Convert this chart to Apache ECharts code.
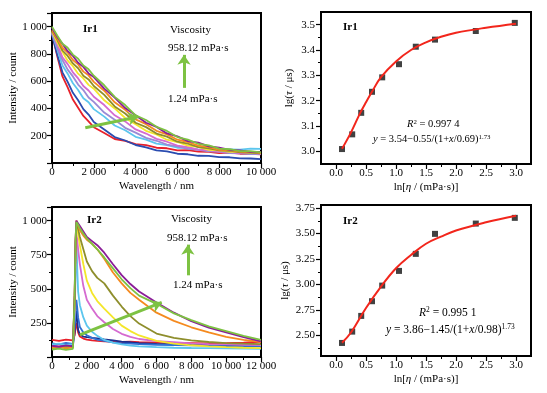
<!DOCTYPE html>
<html>
<head>
<meta charset="utf-8">
<script src="https://cdn.jsdelivr.net/npm/echarts@6/dist/echarts.min.js"></script>
<style>html,body{margin:0;padding:0;background:#fff}</style>
</head>
<body>
<div id="main" style="width:547px;height:393px;"></div>
<script>
// Ir1 decay curves (x in nm)
const wl1 = [0, 250, 500, 750, 1000, 1250, 1500, 1750, 2000, 2500, 3000, 3500, 4000, 4500, 5000, 5500, 6000, 6500, 7000, 7500, 8000, 8500, 9000, 9500, 10000]
const ir1Red = [950, 785, 635, 555, 465, 405, 345, 305, 262, 220, 176, 163, 138, 131, 112, 108, 93, 95, 83, 82, 73, 76, 68, 68, 64]
const ir1Blue = [940, 795, 665, 595, 515, 460, 395, 355, 300, 245, 190, 165, 132, 115, 92, 85, 68, 64, 53, 52, 43, 42, 34, 33, 29]
const ir1Cyan = [950, 835, 715, 655, 585, 535, 475, 445, 395, 340, 275, 240, 192, 172, 142, 131, 112, 111, 98, 100, 93, 100, 98, 106, 104]
const ir1Lavender = [955, 845, 755, 685, 635, 575, 535, 480, 448, 370, 318, 258, 223, 184, 163, 135, 122, 104, 97, 85, 82, 73, 71, 66, 66]
const ir1Magenta = [960, 875, 775, 725, 665, 620, 565, 532, 486, 425, 350, 305, 246, 216, 177, 156, 127, 117, 98, 95, 83, 82, 73, 74, 69]
const ir1Yellow = [965, 885, 815, 750, 710, 655, 620, 573, 545, 460, 400, 330, 285, 236, 209, 171, 154, 127, 118, 97, 93, 82, 82, 74, 76]
const ir1Olive = [970, 905, 825, 785, 730, 695, 640, 613, 565, 500, 415, 363, 295, 263, 216, 193, 156, 142, 117, 108, 92, 90, 78, 77, 70]
const ir1Orange = [975, 915, 845, 810, 755, 723, 670, 643, 595, 530, 445, 390, 320, 285, 236, 210, 171, 154, 127, 116, 97, 95, 83, 82, 74]
const ir1Purple = [990, 925, 875, 820, 785, 735, 705, 657, 630, 545, 480, 403, 350, 295, 265, 217, 195, 160, 149, 122, 113, 97, 93, 82, 82]
const ir1Green = [1000, 935, 875, 845, 795, 765, 715, 687, 640, 570, 485, 425, 350, 315, 265, 235, 190, 172, 141, 130, 106, 101, 87, 87, 78]

// Ir2 decay curves
const wl2 = [0, 400, 800, 1200, 1300, 1350, 1400, 1450, 1500, 1600, 1800, 2000, 2300, 2600, 3000, 3500, 4000, 4500, 5000, 6000, 7000, 8000, 9000, 10000, 11000, 12000]
const ir2Red = [125, 118, 128, 122, 160, 210, 250, 220, 180, 150, 135, 128, 122, 118, 115, 113, 110, 112, 108, 106, 104, 102, 100, 102, 105, 112]
const ir2Navy = [82, 88, 78, 84, 180, 280, 340, 260, 200, 165, 150, 145, 140, 137, 130, 122, 112, 108, 102, 96, 92, 90, 88, 85, 82, 80]
const ir2Blue = [100, 92, 104, 96, 220, 340, 420, 360, 290, 220, 180, 160, 140, 128, 118, 108, 100, 98, 95, 90, 88, 85, 83, 80, 80, 78]
const ir2Cyan = [92, 98, 88, 94, 300, 600, 880, 650, 480, 380, 290, 230, 185, 155, 125, 105, 92, 84, 78, 72, 68, 66, 65, 64, 62, 60]
const ir2Magenta = [76, 82, 72, 78, 350, 700, 900, 860, 790, 680, 520, 420, 355, 300, 255, 205, 170, 148, 132, 116, 108, 100, 95, 92, 90, 88]
const ir2Yellow = [70, 76, 68, 72, 400, 800, 960, 950, 900, 820, 680, 560, 470, 410, 355, 290, 230, 190, 158, 118, 98, 86, 78, 72, 68, 65]
const ir2Olive = [72, 68, 76, 70, 420, 820, 980, 970, 940, 880, 790, 700, 630, 580, 540, 450, 370, 300, 245, 172, 140, 122, 110, 102, 98, 95]
const ir2Orange = [66, 72, 64, 70, 450, 850, 1000, 990, 965, 930, 890, 860, 830, 790, 720, 620, 540, 470, 420, 325, 265, 218, 180, 148, 125, 110]
const ir2Purple = [82, 74, 86, 78, 450, 850, 1000, 995, 980, 960, 920, 880, 850, 820, 765, 680, 600, 535, 480, 400, 325, 262, 215, 180, 145, 115]
const ir2Green = [55, 62, 52, 60, 450, 850, 990, 985, 970, 945, 905, 870, 830, 790, 730, 650, 570, 505, 450, 390, 320, 270, 225, 190, 155, 125]

// lg(viscosity) vs lg(tau)
const lgEta = [0.1, 0.27, 0.42, 0.6, 0.77, 1.05, 1.33, 1.65, 2.33, 2.98]
const ir1LgTau = [3.009, 3.067, 3.152, 3.235, 3.292, 3.344, 3.413, 3.441, 3.475, 3.507]
const ir2LgTau = [2.428, 2.539, 2.693, 2.837, 2.990, 3.134, 3.301, 3.497, 3.598, 3.654]
// fitted curves
const fitX1 = [0.1, 0.25, 0.4, 0.5, 0.6, 0.75, 1.0, 1.25, 1.5, 1.75, 2.0, 2.5, 3.0]
const fitY1 = [3.01, 3.075, 3.15, 3.194, 3.235, 3.293, 3.355, 3.40, 3.43, 3.452, 3.468, 3.488, 3.504]
const fitX2 = [0.1, 0.25, 0.5, 0.75, 1.0, 1.25, 1.5, 1.75, 2.0, 2.5, 3.0]
const fitY2 = [2.43, 2.53, 2.77, 2.98, 3.16, 3.29, 3.40, 3.47, 3.53, 3.61, 3.675]

// tick values
const lnTicks = [0, 0.5, 1.0, 1.5, 2.0, 2.5, 3.0]
const lnMinor = [0.25, 0.75, 1.25, 1.75, 2.25, 2.75]
const ir1YTicks = [3.0, 3.1, 3.2, 3.3, 3.4, 3.5]
const ir1YMinor = [3.05, 3.15, 3.25, 3.35, 3.45]
const ir2YTicks = [2.5, 2.75, 3.0, 3.25, 3.5, 3.75]
const ir2YMinor = [2.375, 2.625, 2.875, 3.125, 3.375, 3.625]

const FONT = 'Liberation Serif'
const GREEN = '#7dc242'

const zip = (xs, ys) => xs.map((x, i) => [x, ys[i]])
const thousands = v => v >= 1000 ? Math.floor(v / 1000) + ' ' + String(v % 1000).padStart(3, '0') : String(v)

function decay (name, xs, ys, color, idx, extra) {
  return Object.assign({
    name: name,
    type: 'line',
    xAxisIndex: idx,
    yAxisIndex: idx,
    showSymbol: false,
    data: zip(xs, ys),
    lineStyle: { color: color, width: 1.8 },
    itemStyle: { color: color }
  }, extra || {})
}

function arrows (lines) {
  return {
    markLine: {
      silent: true,
      symbol: ['none', 'arrow'],
      symbolSize: 10,
      label: { show: false },
      lineStyle: { color: GREEN, width: 3, type: 'solid' },
      data: lines.map(l => [{ coord: l[0] }, { coord: l[1] }])
    }
  }
}

const lineBase = {
  axisLine: { show: true, onZero: false, lineStyle: { color: '#000', width: 1.5 } },
  axisTick: { show: true, inside: false, length: 5, lineStyle: { color: '#000', width: 1.2 } },
  minorTick: { show: true, splitNumber: 2, length: 3, lineStyle: { color: '#000', width: 1 } },
  splitLine: { show: false },
  minorSplitLine: { show: false },
  axisLabel: { color: '#000', fontFamily: FONT, fontSize: 11 },
  nameLocation: 'middle',
  nameTextStyle: {
    color: '#000', fontFamily: FONT, fontSize: 11,
    rich: { i: { fontStyle: 'italic', fontFamily: FONT, fontSize: 11, color: '#000' } }
  }
}
const ax = o => Object.assign({}, JSON.parse(JSON.stringify(lineBase)), o, {
  axisLabel: Object.assign({}, lineBase.axisLabel, o.axisLabel || {})
})
// tick-only axis laid over a grid edge for the short in-between ticks
const minorAx = (grid, min, max, values, pos) => ({
  gridIndex: grid, type: 'value', min: min, max: max, position: pos,
  axisLine: { show: false, onZero: false }, axisLabel: { show: false }, splitLine: { show: false },
  axisTick: { show: true, inside: false, length: 3, customValues: values, lineStyle: { color: '#000', width: 1 } }
})

const grids = [
  { left: 52, top: 13, width: 209, height: 150 },
  { left: 321, top: 12, width: 210, height: 152 },
  { left: 52, top: 207, width: 209, height: 150 },
  { left: 321, top: 205, width: 210, height: 151 }
].map(g => Object.assign(g, { show: true, borderColor: '#000', borderWidth: 2, backgroundColor: 'transparent', containLabel: false, outerBoundsMode: 'none' }))

const xAxes = [
  ax({ gridIndex: 0, type: 'value', min: 0, max: 10000, interval: 2000, name: 'Wavelength / nm', nameGap: 18, axisLabel: { formatter: thousands, margin: 4 } }),
  ax({ gridIndex: 1, type: 'value', min: -0.25, max: 3.25, position: 'bottom', name: 'ln[{i|η} / (mPa·s)]', nameGap: 18, minorTick: { show: false },
    axisTick: { show: true, length: 5, customValues: lnTicks, lineStyle: { color: '#000', width: 1.2 } },
    axisLabel: { customValues: lnTicks, formatter: v => v.toFixed(1), margin: 4 } }),
  ax({ gridIndex: 2, type: 'value', min: 0, max: 12000, interval: 2000, name: 'Wavelength / nm', nameGap: 18, axisLabel: { formatter: thousands, margin: 4 } }),
  ax({ gridIndex: 3, type: 'value', min: -0.25, max: 3.25, position: 'bottom', name: 'ln[{i|η} / (mPa·s)]', nameGap: 18, minorTick: { show: false },
    axisTick: { show: true, length: 5, customValues: lnTicks, lineStyle: { color: '#000', width: 1.2 } },
    axisLabel: { customValues: lnTicks, formatter: v => v.toFixed(1), margin: 4 } }),
  minorAx(1, -0.25, 3.25, lnMinor, 'bottom'),
  minorAx(3, -0.25, 3.25, lnMinor, 'bottom')
]

const yAxes = [
  ax({ gridIndex: 0, type: 'value', min: 0, max: 1100, interval: 200, name: 'Intensity / count', nameGap: 32,
    axisLabel: { formatter: v => (v === 0 || v > 1000) ? '' : thousands(v), margin: 5 } }),
  ax({ gridIndex: 1, type: 'value', min: 2.95, max: 3.55, position: 'left', name: 'lg({i|τ} / μs)', nameGap: 26, minorTick: { show: false },
    axisTick: { show: true, length: 5, customValues: ir1YTicks, lineStyle: { color: '#000', width: 1.2 } },
    axisLabel: { customValues: ir1YTicks, formatter: v => v.toFixed(1), margin: 6 } }),
  ax({ gridIndex: 2, type: 'value', min: 0, max: 1100, interval: 250, name: 'Intensity / count', nameGap: 32,
    axisLabel: { formatter: v => (v === 0 || v > 1000) ? '' : thousands(v), margin: 5 } }),
  ax({ gridIndex: 3, type: 'value', min: 2.3, max: 3.78, position: 'left', name: 'lg({i|τ} / μs)', nameGap: 30, minorTick: { show: false },
    axisTick: { show: true, length: 5, customValues: ir2YTicks, lineStyle: { color: '#000', width: 1.2 } },
    axisLabel: { customValues: ir2YTicks, formatter: v => v.toFixed(2), margin: 6 } }),
  minorAx(1, 2.95, 3.55, ir1YMinor, 'left'),
  minorAx(3, 2.3, 3.78, ir2YMinor, 'left')
]

const series = [
  decay('1.24', wl1, ir1Red, '#e8202a', 0),
  decay('b', wl1, ir1Blue, '#2a4cb0', 0),
  decay('c', wl1, ir1Cyan, '#5cc6ee', 0),
  decay('d', wl1, ir1Lavender, '#9a8ad6', 0),
  decay('e', wl1, ir1Magenta, '#d56ad0', 0),
  decay('f', wl1, ir1Yellow, '#f4e62a', 0),
  decay('g', wl1, ir1Olive, '#8e8e2c', 0),
  decay('h', wl1, ir1Orange, '#f58a1f', 0),
  decay('i', wl1, ir1Purple, '#8a1c98', 0),
  decay('958.12', wl1, ir1Green, GREEN, 0, arrows([[[1593, 258], [4129, 339]], [[6316, 551], [6316, 793]]])),

  decay('1.24', wl2, ir2Red, '#e8202a', 2),
  decay('b', wl2, ir2Navy, '#1d2c8c', 2),
  decay('c', wl2, ir2Blue, '#2f6fd2', 2),
  decay('d', wl2, ir2Cyan, '#5cc6ee', 2),
  decay('e', wl2, ir2Magenta, '#d56ad0', 2),
  decay('f', wl2, ir2Yellow, '#f4e62a', 2),
  decay('g', wl2, ir2Olive, '#8e8e2c', 2),
  decay('h', wl2, ir2Orange, '#f58a1f', 2),
  decay('i', wl2, ir2Purple, '#8a1c98', 2),
  decay('958.12', wl2, ir2Green, GREEN, 2, arrows([[[1595, 163], [6299, 400]], [[7800, 599], [7800, 824]]])),

  { type: 'scatter', xAxisIndex: 1, yAxisIndex: 1, symbol: 'rect', symbolSize: 6, itemStyle: { color: '#111' }, data: zip(lgEta, ir1LgTau) },
  { type: 'line', xAxisIndex: 1, yAxisIndex: 1, smooth: 0.4, showSymbol: false, lineStyle: { color: '#f2261c', width: 2 }, data: zip(fitX1, fitY1) },
  { type: 'scatter', xAxisIndex: 3, yAxisIndex: 3, symbol: 'rect', symbolSize: 6, itemStyle: { color: '#111' }, data: zip(lgEta, ir2LgTau) },
  { type: 'line', xAxisIndex: 3, yAxisIndex: 3, smooth: 0.4, showSymbol: false, lineStyle: { color: '#f2261c', width: 2 }, data: zip(fitX2, fitY2) }
]

function txt (x, y, text, size, extra) {
  return {
    type: 'text', x: x, y: y, silent: true, z: 100,
    style: Object.assign({
      text: text, fill: '#000', fontFamily: FONT, fontSize: size,
      textAlign: 'left', textVerticalAlign: 'middle',
      rich: {
        i: { fontStyle: 'italic', fontFamily: FONT, fontSize: size, fill: '#000' },
        s: { fontFamily: FONT, fontSize: size * 0.65, fill: '#000', verticalAlign: 'top' }
      }
    }, extra || {})
  }
}

const graphic = [
  txt(83, 29, 'Ir1', 11, { fontWeight: 'bold' }),
  txt(170, 30, 'Viscosity', 11),
  txt(168, 48, '958.12 mPa·s', 11),
  txt(168, 99, '1.24 mPa·s', 11),
  txt(87, 220, 'Ir2', 11, { fontWeight: 'bold' }),
  txt(171, 219, 'Viscosity', 11),
  txt(167, 238, '958.12 mPa·s', 11),
  txt(173, 285, '1.24 mPa·s', 11),
  txt(343, 27, 'Ir1', 11, { fontWeight: 'bold' }),
  txt(407, 124, '{i|R}{s|2} = 0.997 4', 10.5),
  txt(373, 139, '{i|y} = 3.54−0.55/(1+{i|x}/0.69){s|1.73}', 10.5),
  txt(343, 221, 'Ir2', 11, { fontWeight: 'bold' }),
  txt(419, 313, '{i|R}{s|2} = 0.995 1', 11.5),
  txt(386, 330, '{i|y} = 3.86−1.45/(1+{i|x}/0.98){s|1.73}', 11.5)
]

const myChart = echarts.init(document.getElementById('main'), null, { renderer: 'canvas' })
myChart.setOption({
  animation: false,
  backgroundColor: '#fff',
  grid: grids,
  xAxis: xAxes,
  yAxis: yAxes,
  series: series,
  graphic: graphic
})
</script>
</body>
</html>
